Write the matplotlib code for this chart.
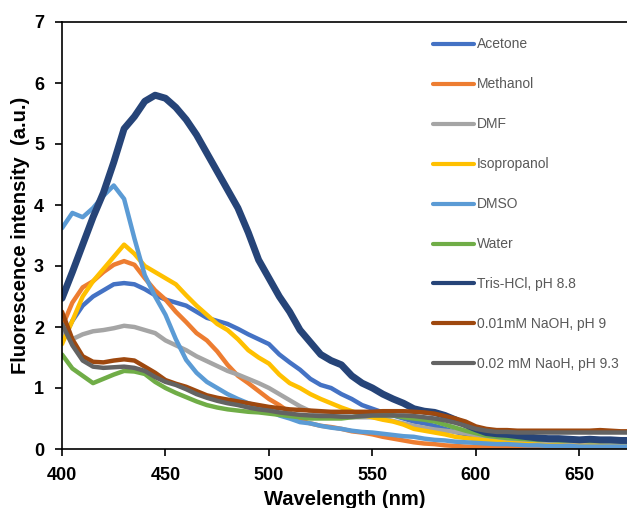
import numpy as np
import matplotlib
matplotlib.use("Agg")
import matplotlib.pyplot as plt

plt.rcParams['font.family'] = ['Liberation Sans', 'DejaVu Sans']

wavelength = list(range(400, 676, 5))

acetone = [1.75, 2.1, 2.35, 2.5, 2.6, 2.7, 2.72, 2.7, 2.62, 2.52, 2.45, 2.4, 2.35, 2.25,
           2.15, 2.1, 2.05, 1.97, 1.88, 1.8, 1.72, 1.55, 1.42, 1.3, 1.15, 1.05, 1.0, 0.9,
           0.82, 0.72, 0.66, 0.6, 0.55, 0.5, 0.45, 0.42, 0.38, 0.33, 0.28, 0.24, 0.2, 0.17,
           0.15, 0.13, 0.12, 0.11, 0.1, 0.09, 0.09, 0.08, 0.08, 0.07, 0.07, 0.07, 0.07, 0.07]
methanol = [2.0, 2.4, 2.65, 2.75, 2.9, 3.02, 3.08, 3.02, 2.8, 2.6, 2.45, 2.25, 2.08, 1.9,
            1.78, 1.6, 1.38, 1.2, 1.08, 0.95, 0.82, 0.72, 0.6, 0.47, 0.42, 0.38, 0.36, 0.33,
            0.29, 0.27, 0.24, 0.2, 0.17, 0.14, 0.11, 0.09, 0.08, 0.06, 0.05, 0.04, 0.03, 0.03,
            0.02, 0.02, 0.02, 0.02, 0.02, 0.02, 0.02, 0.02, 0.02, 0.02, 0.02, 0.02, 0.02, 0.02]
dmf = [1.9, 1.8, 1.88, 1.93, 1.95, 1.98, 2.02, 2.0, 1.95, 1.9, 1.78, 1.7, 1.62, 1.52,
       1.44, 1.36, 1.28, 1.22, 1.15, 1.08, 1.0, 0.9, 0.8, 0.7, 0.62, 0.58, 0.54, 0.53,
       0.52, 0.52, 0.52, 0.5, 0.46, 0.42, 0.38, 0.35, 0.32, 0.3, 0.28, 0.26, 0.22, 0.18,
       0.16, 0.14, 0.13, 0.12, 0.11, 0.1, 0.1, 0.1, 0.09, 0.09, 0.09, 0.09, 0.09, 0.09]
isopropanol = [1.72, 2.1, 2.5, 2.75, 2.95, 3.15, 3.35, 3.2, 3.0, 2.9, 2.8, 2.7, 2.52, 2.35,
               2.2, 2.05, 1.95, 1.8, 1.62, 1.5, 1.4, 1.22, 1.08, 1.0, 0.9, 0.82, 0.75, 0.68,
               0.62, 0.56, 0.52, 0.48, 0.45, 0.4, 0.33, 0.3, 0.27, 0.24, 0.2, 0.18, 0.16, 0.14,
               0.12, 0.1, 0.09, 0.08, 0.07, 0.06, 0.06, 0.05, 0.05, 0.05, 0.05, 0.04, 0.04, 0.04]
dmso = [3.62, 3.87, 3.8, 3.95, 4.15, 4.32, 4.1, 3.45, 2.85, 2.5, 2.2, 1.8, 1.46, 1.25,
        1.1, 1.0, 0.9, 0.82, 0.75, 0.7, 0.63, 0.55, 0.5, 0.44, 0.42, 0.38, 0.35, 0.33,
        0.3, 0.28, 0.27, 0.25, 0.23, 0.21, 0.2, 0.17, 0.15, 0.14, 0.12, 0.11, 0.1, 0.09,
        0.08, 0.08, 0.07, 0.06, 0.06, 0.05, 0.05, 0.05, 0.04, 0.04, 0.04, 0.04, 0.04, 0.04]
water = [1.55, 1.32, 1.2, 1.08, 1.15, 1.22, 1.28, 1.27, 1.23, 1.1, 1.0, 0.92, 0.85, 0.78,
         0.72, 0.68, 0.65, 0.63, 0.61, 0.6, 0.58, 0.56, 0.54, 0.52, 0.5, 0.5, 0.5, 0.5,
         0.52, 0.54, 0.55, 0.55, 0.55, 0.52, 0.5, 0.48, 0.45, 0.4, 0.35, 0.3, 0.26, 0.22,
         0.2, 0.18, 0.17, 0.16, 0.15, 0.15, 0.14, 0.14, 0.14, 0.13, 0.13, 0.13, 0.13, 0.13]
tris = [2.47, 2.9, 3.35, 3.8, 4.2, 4.7, 5.25, 5.45, 5.7, 5.8, 5.75, 5.6, 5.4, 5.15,
        4.85, 4.55, 4.25, 3.95, 3.55, 3.1, 2.8, 2.5, 2.25, 1.95, 1.75, 1.55, 1.45, 1.38,
        1.2, 1.08, 1.0, 0.9, 0.82, 0.75, 0.66, 0.62, 0.6, 0.55, 0.48, 0.4, 0.33, 0.27,
        0.25, 0.24, 0.22, 0.2, 0.18, 0.17, 0.17, 0.16, 0.15, 0.16, 0.15, 0.15, 0.14, 0.14]
naoh_001 = [2.25, 1.8, 1.52, 1.43, 1.42, 1.45, 1.47, 1.45, 1.35, 1.25, 1.13, 1.07, 1.02, 0.95,
            0.88, 0.84, 0.81, 0.78, 0.75, 0.72, 0.69, 0.67, 0.65, 0.64, 0.63, 0.62, 0.61, 0.61,
            0.61, 0.61, 0.61, 0.62, 0.62, 0.62, 0.61, 0.6, 0.58, 0.54, 0.5, 0.45, 0.37, 0.33,
            0.31, 0.31, 0.3, 0.3, 0.3, 0.3, 0.3, 0.3, 0.3, 0.3, 0.31, 0.3, 0.29, 0.29]
naoh_002 = [2.05, 1.7, 1.45, 1.35, 1.33, 1.34, 1.35, 1.33, 1.28, 1.18, 1.1, 1.05, 0.98, 0.9,
            0.84, 0.79, 0.75, 0.72, 0.68, 0.65, 0.63, 0.6, 0.58, 0.56, 0.55, 0.54, 0.54, 0.53,
            0.53, 0.54, 0.55, 0.55, 0.55, 0.55, 0.54, 0.52, 0.5, 0.47, 0.43, 0.38, 0.33, 0.3,
            0.28, 0.28, 0.27, 0.27, 0.27, 0.27, 0.27, 0.27, 0.27, 0.27, 0.27, 0.27, 0.27, 0.27]

labels = ['Acetone', 'Methanol', 'DMF', 'Isopropanol', 'DMSO', 'Water',
          'Tris-HCl, pH 8.8', '0.01mM NaOH, pH 9', '0.02 mM NaoH, pH 9.3']
series = [acetone, methanol, dmf, isopropanol, dmso, water, tris, naoh_001, naoh_002]
colors = ['#4472C4', '#ED7D31', '#A5A5A5', '#FFC000', '#5B9BD5', '#70AD47',
          '#264478', '#9E480E', '#636363']
widths = [3.2, 3.2, 3.2, 3.2, 3.2, 3.2, 5.0, 3.2, 3.2]

fig = plt.figure(figsize=(6.27, 5.08), dpi=100)
ax = fig.add_axes([62 / 627, 59 / 508, 1 - 62 / 627, 427 / 508])

for vals, lab, col, lw in zip(series, labels, colors, widths):
    ax.plot(wavelength, vals, color=col, lw=lw, label=lab, solid_joinstyle='round',
            solid_capstyle='round')

ax.set_xlim(400, 673)
ax.set_ylim(0, 7)
ax.set_xticks([400, 450, 500, 550, 600, 650])
ax.set_yticks(range(0, 8))
ax.spines['right'].set_visible(False)
for s in ['left', 'bottom', 'top']:
    ax.spines[s].set_linewidth(1.2)
ax.tick_params(direction='out', length=5, width=1.2, labelsize=13)
ax.tick_params(axis='x', pad=8)
ax.tick_params(axis='y', pad=8)
for t in ax.get_xticklabels() + ax.get_yticklabels():
    t.set_fontweight('bold')

ax.set_xlabel('Wavelength (nm)', fontsize=14.5, fontweight='bold', labelpad=4)
ax.set_ylabel('Fluorescence intensity  (a.u.)', fontsize=14.5, fontweight='bold', labelpad=3)

leg = ax.legend(loc='upper left', bbox_to_anchor=(420 / 627, 1 - 25 / 508),
                bbox_transform=fig.transFigure, frameon=False, fontsize=10,
                labelspacing=1.87, handlelength=3.02, handletextpad=0.2)
for t in leg.get_texts():
    t.set_color('#595959')
for h in leg.get_lines():
    h.set_linewidth(3.0)

fig.savefig('out.png', dpi=100)
